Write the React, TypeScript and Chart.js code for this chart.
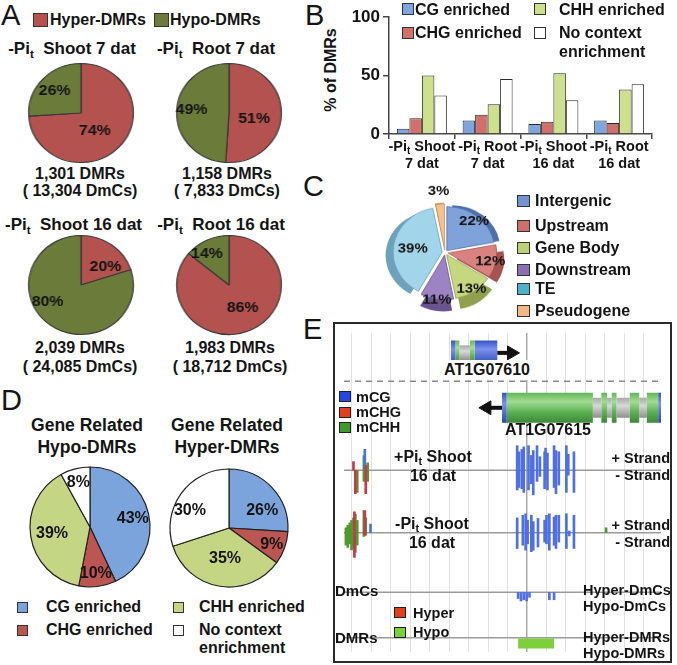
import React, { useEffect, useRef } from "react";
import { Chart, registerables } from "chart.js";
Chart.register(...registerables);

const FONT = "'Liberation Sans', Arial, Helvetica, sans-serif";
const INK = "#141414";

// ---------------- Panel A data ----------------
const A_SERIES = ["Hyper-DMRs", "Hypo-DMRs"];
const A_TISSUE = ["Shoot 7 dat", "Root 7 dat", "Shoot 16 dat", "Root 16 dat"];
const A_HYPER = [74, 51, 20, 86];
const A_HYPO = [26, 49, 80, 14];
const A_DMRS = ["1,301", "1,158", "2,039", "1,983"];
const A_DMCS = ["13,304", "7,833", "24,085", "18,712"];
const A_COLORS = ["#b3524e", "#6b7c3a"];

// ---------------- Panel B data ----------------
const B_TICK_TOP = ["Shoot", "Root", "Shoot", "Root"];
const B_TICK_BOTTOM = ["7 dat", "7 dat", "16 dat", "16 dat"];
const B_SERIES = ["CG enriched", "CHG enriched", "CHH enriched", "No context enrichment"];
const B_CG = [4.5, 11.5, 8.5, 11.5];
const B_CHG = [13.5, 16.5, 10.5, 9.5];
const B_CHH = [50, 25.5, 52, 38];
const B_NONE = [33, 47, 29, 42.5];
const B_Y_TICKS = [0, 50, 100];
const B_COLORS = ["#7ea5e0", "#d36f6a", "#cde08d", "#ffffff"];

// ---------------- Panel C data ----------------
const C_LABELS = ["Intergenic", "Upstream", "Gene Body", "Downstream", "TE", "Pseudogene"];
const C_VALUES = [22, 12, 13, 11, 39, 3];
const C_COLORS = ["#7fa2da", "#d88380", "#c5d880", "#9c84c4", "#a2d4ea", "#f7c08f"];
const C_SIDE = ["#4f70a8", "#a65450", "#8fa14f", "#6a5490", "#6ea2ba", "#c48f5f"];
const C_LEGEND_COLORS = ["#6f94d2", "#cd6e6a", "#b9d074", "#8a6fb5", "#4fb0cb", "#f4b983"];

// ---------------- Panel D data ----------------
const D_SERIES = ["CG enriched", "CHG enriched", "CHH enriched", "No context enrichment"];
const D_HYPO = [43, 10, 39, 8];
const D_HYPER = [26, 9, 35, 30];
const D_COLORS = ["#7ba4dd", "#bc5652", "#c4d584", "#ffffff"];

// ---------------- Panel E data (positions in 10-bp units from view start) ----------------
const GENE1_NAME = "AT1G07610";
const GENE1_UTR = [[113, 118], [138, 162]];
const GENE1_EXON = [[118, 122], [133, 138]];
const GENE1_INTRON = [[122, 133]];
const GENE2_NAME = "AT1G07615";
const GENE2_UTR = [[167, 172], [332, 336]];
const GENE2_EXON = [[172, 263], [272, 278], [283, 288], [302, 312], [320, 332]];
const GENE2_INTRON = [[263, 272], [278, 283], [288, 302], [312, 320]];

// +Pi shoot 16 dat methylation levels (0-1) on + / - strand
const T1_CG_POS = [22, 183, 185, 188, 190, 195, 198, 200, 204, 207, 212, 213, 215, 222, 224, 227, 235, 237, 243];
const T1_CG_PLUS = [0.85, 1.0, 0.75, 0.85, 0.95, 1.0, 0.6, 0.8, 1.0, 0.55, 0.75, 0.9, 0.7, 1.0, 0.8, 0.75, 1.0, 0.65, 0.75];
const T1_CG_MINUS = [0, 0.8, 0.7, 0.75, 0.9, 0.8, 0.55, 1.0, 0.45, 0.25, 0.75, 0.4, 0.8, 0.7, 0.95, 0.6, 0.9, 0.2, 0.9];
const T1_CHG_POS = [10, 12, 23];
const T1_CHG_PLUS = [0.35, 0, 0.2];
const T1_CHG_MINUS = [0, 0.95, 0.95];
const T1_CHH_POS = [14, 21, 25];
const T1_CHH_PLUS = [0, 0.6, 0.3];
const T1_CHH_MINUS = [0.9, 0.45, 0.45];

// -Pi shoot 16 dat
const T2_CG_POS = [22, 28, 183, 189, 192, 194, 198, 200, 205, 212, 214, 217, 222, 224, 227, 235, 238, 243];
const T2_CG_PLUS = [0.75, 0.35, 0.6, 0.71, 0.77, 0.51, 0.71, 0.45, 0.58, 0.51, 0.71, 0.77, 0.64, 0.71, 0.71, 0.77, 0.07, 0.71];
const T2_CG_MINUS = [0, 0, 0.64, 0.51, 0.71, 0.45, 0.77, 0.71, 0.58, 0.38, 0.45, 0.71, 0.51, 0.64, 0.38, 0.64, 0.13, 0.64];
const T2_CHG_POS = [11, 22];
const T2_CHG_PLUS = [0.85, 0.9];
const T2_CHG_MINUS = [1.0, 0.1];
const T2_CHH_POS = [2, 4, 6, 8, 10, 12, 14, 21, 23, 277];
const T2_CHH_PLUS = [0.2, 0.3, 0.4, 0.5, 0.6, 0.75, 0.5, 0.9, 0.6, 0.2];
const T2_CHH_MINUS = [0.5, 0.6, 0.45, 0.7, 0.6, 0.8, 0.5, 0.15, 0.1, 0];

const HYPER_DMC_POS: number[] = [];
const HYPER_DMC_LEVEL: number[] = [];
const HYPO_DMC_POS = [184, 187, 190, 193, 196, 217, 222];
const HYPO_DMC_LEVEL = [0.25, 0.35, 0.3, 0.35, 0.2, 0.3, 0.3];
const HYPER_DMR: number[][] = [];
const HYPO_DMR = [[184, 222]];

const M_COLORS = { CG: "#4f6fe3", CHG: "#c8384c", CHH: "#4f9a2e" };
const LEG_COLORS = { CG: "#2447e6", CHG: "#e2401c", CHH: "#3e9a2c", HYPER: "#e2401c", HYPO: "#7dd03c" };

// ---------------- helpers ----------------
function Txt({ x, y, children, size = 16, align = "left", weight = 700, style = {} }: any) {
  const tx = align === "center" ? "-50%" : align === "right" ? "-100%" : "0";
  return (
    <div
      style={{
        position: "absolute", left: x, top: y, transform: `translate(${tx}, -50%)`,
        fontFamily: FONT, fontSize: size, fontWeight: weight, lineHeight: 1,
        whiteSpace: "nowrap", color: INK, ...style,
      }}
    >
      {children}
    </div>
  );
}
function Sq({ x, y, w = 12, h = 12, color, border = "#333" }: any) {
  return (
    <div style={{ position: "absolute", left: x, top: y, width: w, height: h, background: color, border: `1px solid ${border}`, boxSizing: "border-box" }} />
  );
}
const Sub = ({ c }: any) => <span style={{ fontSize: "0.68em", position: "relative", top: "0.32em" }}>{c}</span>;

type PieProps = {
  left: number; top: number; size: number; cssW?: number; cssH?: number;
  radius: number; names: string[]; values: number[]; colors: string[];
  borderColor?: any; borderWidth?: number; offset?: number;
  labelSize: number; frac: number[]; shift?: number[];
  depth?: number; sideColors?: string[];
};

function PieChart(p: PieProps) {
  const ref = useRef<HTMLCanvasElement>(null);
  useEffect(() => {
    const labelPlugin = {
      id: "pieLabels",
      afterDatasetsDraw(chart: any) {
        const ctx = chart.ctx;
        const meta = chart.getDatasetMeta(0);
        const ds = chart.data.datasets[0];
        ctx.save();
        ctx.font = `bold ${p.labelSize}px ${FONT}`;
        ctx.fillStyle = INK;
        ctx.textAlign = "center";
        ctx.textBaseline = "middle";
        meta.data.forEach((arc: any, i: number) => {
          const q = arc.getProps(["x", "y", "startAngle", "endAngle", "outerRadius"], true);
          const mid = (q.startAngle + q.endAngle) / 2;
          const off = p.offset || 0;
          const a = mid + ((p.shift && p.shift[i]) || 0) * Math.PI / 180;
          const d = q.outerRadius * p.frac[i];
          const x = q.x + Math.cos(mid) * off + Math.cos(a) * d;
          const y = q.y + Math.sin(mid) * off + Math.sin(a) * d;
          ctx.fillText(`${ds.data[i]}%`, x, y + 1);
        });
        ctx.restore();
      },
    };
    const depthPlugin = {
      id: "pieDepth",
      beforeDatasetsDraw(chart: any) {
        if (!p.depth) return;
        const ctx = chart.ctx;
        const meta = chart.getDatasetMeta(0);
        meta.data.forEach((arc: any, i: number) => {
          const q = arc.getProps(["x", "y", "startAngle", "endAngle", "outerRadius"], true);
          const mid = (q.startAngle + q.endAngle) / 2;
          const off = p.offset || 0;
          const cx = q.x + Math.cos(mid) * off;
          const cy = q.y + Math.sin(mid) * off + (p.depth as number);
          ctx.save();
          ctx.beginPath();
          ctx.moveTo(cx, cy);
          ctx.arc(cx, cy, q.outerRadius, q.startAngle, q.endAngle);
          ctx.closePath();
          ctx.fillStyle = (p.sideColors as string[])[i];
          ctx.fill();
          ctx.restore();
        });
      },
    };
    const chart = new Chart(ref.current as HTMLCanvasElement, {
      type: "pie",
      data: {
        labels: p.names,
        datasets: [{
          data: p.values, backgroundColor: p.colors,
          borderColor: p.borderColor ?? "#333", borderWidth: p.borderWidth ?? 1,
          offset: p.offset ?? 0, radius: p.radius,
        } as any],
      },
      options: {
        animation: false, responsive: false, events: [],
        layout: { padding: 0 },
        plugins: { legend: { display: false }, tooltip: { enabled: false } },
      } as any,
      plugins: [depthPlugin, labelPlugin],
    });
    return () => chart.destroy();
  }, []);
  return (
    <canvas
      ref={ref} width={p.size} height={p.size}
      style={{ position: "absolute", left: p.left, top: p.top, width: p.cssW ?? p.size, height: p.cssH ?? p.size }}
    />
  );
}

// ---------------- Panel B chart ----------------
function BarChartB() {
  const ref = useRef<HTMLCanvasElement>(null);
  useEffect(() => {
    const xLabels = {
      id: "xLabels",
      afterDraw(chart: any) {
        const { ctx, chartArea } = chart;
        const x = chart.scales.x;
        ctx.save();
        ctx.fillStyle = INK;
        ctx.textBaseline = "middle";
        const big = `bold 14.5px ${FONT}`;
        const small = `bold 10px ${FONT}`;
        B_TICK_TOP.forEach((name, i) => {
          const cx = x.getPixelForValue(i);
          const y1 = chartArea.bottom + 13;
          const y2 = chartArea.bottom + 29.5;
          ctx.font = big;
          const w1 = ctx.measureText("-Pi").width;
          const w3 = ctx.measureText(" " + name).width;
          ctx.font = small;
          const w2 = ctx.measureText("t").width;
          const sx = cx - (w1 + w2 + w3) / 2;
          ctx.textAlign = "left";
          ctx.font = big;
          ctx.fillText("-Pi", sx, y1);
          ctx.font = small;
          ctx.fillText("t", sx + w1, y1 + 4.5);
          ctx.font = big;
          ctx.fillText(" " + name, sx + w1 + w2, y1);
          ctx.textAlign = "center";
          ctx.fillText(B_TICK_BOTTOM[i], cx, y2);
        });
        ctx.restore();
      },
    };
    const series = [B_CG, B_CHG, B_CHH, B_NONE];
    const chart = new Chart(ref.current as HTMLCanvasElement, {
      type: "bar",
      data: {
        labels: B_TICK_TOP,
        datasets: series.map((d, i) => ({
          label: B_SERIES[i], data: d, backgroundColor: B_COLORS[i],
          borderColor: "#2a2a2a", borderWidth: 1,
          categoryPercentage: 0.76, barPercentage: 1,
        })),
      },
      options: {
        animation: false, responsive: false, events: [],
        layout: { padding: { top: 8, right: 25, left: 0, bottom: 0 } },
        plugins: { legend: { display: false }, tooltip: { enabled: false } },
        scales: {
          x: {
            grid: { offset: true, drawOnChartArea: false, drawTicks: true, tickLength: 5, color: "#444", lineWidth: 1.5 },
            border: { color: "#444", width: 1.5 },
            ticks: { display: false },
            afterFit: (s: any) => { s.height = 42; },
          },
          y: {
            min: 0, max: 100,
            afterBuildTicks: (s: any) => { s.ticks = B_Y_TICKS.map((v) => ({ value: v })); },
            ticks: { font: { family: FONT, size: 17, weight: "bold" }, color: INK, padding: 3 },
            grid: { drawOnChartArea: false, tickLength: 6, color: "#444", lineWidth: 1.5 },
            border: { color: "#444", width: 1.5 },
            afterFit: (s: any) => { s.width = 49; },
          },
        },
      } as any,
      plugins: [xLabels],
    });
    return () => chart.destroy();
  }, []);
  return <canvas ref={ref} width={337} height={172} style={{ position: "absolute", left: 340, top: 4, width: 337, height: 172 }} />;
}

// ---------------- Panel E chart ----------------
const E_W = 335;
const E_H = 337;
const E_GRID_START = 8;
const E_GRID_STEP = 20.6;
const E_GRID_COUNT = 16;
const E_GRID_CENTER = 9;
const Y_GENE1 = 21;
const Y_GENE2 = 79;
const Y_DASH = 51;
const Y_T1 = 145;
const Y_T2 = 211;
const Y_DMC = 274;
const Y_DMR = 322;
const LEVEL_PX = 26;

function GenomeChart() {
  const ref = useRef<HTMLCanvasElement>(null);
  useEffect(() => {
    const grad = (stops: [number, string][], yVal: number, h: number) => (c: any) => {
      const chart = c.chart;
      if (!chart.chartArea || !chart.scales.y) return stops[1][1];
      const yp = chart.scales.y.getPixelForValue(yVal);
      const g = chart.ctx.createLinearGradient(0, yp - h / 2, 0, yp + h / 2);
      stops.forEach(([o, col]) => g.addColorStop(o, col));
      return g;
    };
    const BLUE: [number, string][] = [[0, "#3553c4"], [0.35, "#7a92ee"], [1, "#2a45b0"]];
    const GREEN: [number, string][] = [[0, "#62b658"], [0.3, "#a2dc94"], [0.65, "#5cb052"], [1, "#3d873a"]];
    const GRAY: [number, string][] = [[0, "#a8a8a8"], [0.4, "#d8d8d8"], [1, "#8e8e8e"]];

    const segData = (ranges: number[][], y: number) => {
      const out: any[] = [];
      ranges.forEach(([a, b], i) => {
        if (i > 0) out.push({ x: (ranges[i - 1][1] + a) / 2, y: null });
        out.push({ x: a, y }, { x: b, y });
      });
      return out;
    };
    const line = (data: any[], color: any, width: number, order: number, extra: any = {}) => ({
      type: "line", data, borderColor: color, borderWidth: width, pointRadius: 0,
      borderCapStyle: "butt", fill: false, tension: 0, spanGaps: false, order, ...extra,
    });

    // methylation marks: one bar dataset, per-bar colours
    const marks: any[] = [];
    const markColors: string[] = [];
    const addMarks = (pos: number[], plus: number[], minus: number[], base: number, color: string) => {
      pos.forEach((x, i) => {
        if (plus[i] > 0) { marks.push({ x, y: [base - plus[i] * LEVEL_PX, base] }); markColors.push(color); }
        if (minus[i] > 0) { marks.push({ x, y: [base, base + minus[i] * LEVEL_PX] }); markColors.push(color); }
      });
    };
    addMarks(T1_CHH_POS, T1_CHH_PLUS, T1_CHH_MINUS, Y_T1, M_COLORS.CHH);
    addMarks(T1_CG_POS, T1_CG_PLUS, T1_CG_MINUS, Y_T1, M_COLORS.CG);
    addMarks(T1_CHG_POS, T1_CHG_PLUS, T1_CHG_MINUS, Y_T1, M_COLORS.CHG);
    addMarks(T2_CHH_POS, T2_CHH_PLUS, T2_CHH_MINUS, Y_T2, M_COLORS.CHH);
    addMarks(T2_CG_POS, T2_CG_PLUS, T2_CG_MINUS, Y_T2, M_COLORS.CG);
    addMarks(T2_CHG_POS, T2_CHG_PLUS, T2_CHG_MINUS, Y_T2, M_COLORS.CHG);
    addMarks(HYPER_DMC_POS, HYPER_DMC_LEVEL, HYPER_DMC_POS.map(() => 0), Y_DMC, M_COLORS.CG);
    addMarks(HYPO_DMC_POS, HYPO_DMC_POS.map(() => 0), HYPO_DMC_LEVEL, Y_DMC, M_COLORS.CG);

    const hLine = (y: number, extra: any = {}) =>
      line([{ x: 0, y }, { x: E_W, y }], "#9b9b9b", 1.5, 10, extra);

    const datasets: any[] = [
      {
        type: "bar", data: marks, backgroundColor: markColors, borderWidth: 0,
        barThickness: 2, order: 1,
      },
      line(segData(HYPO_DMR, Y_DMR + 6), LEG_COLORS.HYPO, 10, 1),
      ...(HYPER_DMR.length ? [line(segData(HYPER_DMR, Y_DMR - 6), LEG_COLORS.HYPER, 10, 1)] : []),
      // genes
      line(segData(GENE1_INTRON, Y_GENE1), grad(GRAY, Y_GENE1, 15), 15, 4),
      line(segData(GENE1_UTR, Y_GENE1), grad(BLUE, Y_GENE1, 25), 25, 3),
      line(segData(GENE1_EXON, Y_GENE1), grad(GREEN, Y_GENE1, 25), 25, 2),
      line(segData(GENE2_INTRON, Y_GENE2), grad(GRAY, Y_GENE2, 20), 20, 4),
      line(segData(GENE2_UTR, Y_GENE2), grad(BLUE, Y_GENE2, 30), 30, 3),
      line(segData(GENE2_EXON, Y_GENE2), grad(GREEN, Y_GENE2, 30), 30, 2),
      // strand arrows
      line([{ x: GENE1_UTR[1][1], y: Y_GENE1 }, { x: GENE1_UTR[1][1] + 15, y: Y_GENE1 }], "#111", 4, 2, {
        pointRadius: [0, 8], pointStyle: "triangle", rotation: 90, pointBackgroundColor: "#111", pointBorderColor: "#111", pointBorderWidth: 1,
      }),
      line([{ x: GENE2_UTR[0][0], y: Y_GENE2 }, { x: GENE2_UTR[0][0] - 16, y: Y_GENE2 }], "#111", 4, 2, {
        pointRadius: [0, 8], pointStyle: "triangle", rotation: 270, pointBackgroundColor: "#111", pointBorderColor: "#111", pointBorderWidth: 1,
      }),
      // separators
      hLine(Y_DASH, { borderDash: [6, 5], borderColor: "#8a8a8a" }),
      hLine(Y_T1),
      hLine(Y_T2),
      hLine(Y_DMC),
      hLine(Y_DMR),
    ];

    const gridTicks = Array.from({ length: E_GRID_COUNT }, (_, k) => ({ value: E_GRID_START + k * E_GRID_STEP }));

    const chart = new Chart(ref.current as HTMLCanvasElement, {
      type: "bar",
      data: { datasets },
      options: {
        animation: false, responsive: false, events: [],
        layout: { padding: 0 },
        plugins: { legend: { display: false }, tooltip: { enabled: false } },
        scales: {
          x: {
            type: "linear", min: 0, max: E_W, offset: false,
            afterBuildTicks: (s: any) => { s.ticks = gridTicks.map((t) => ({ ...t })); },
            ticks: { display: false },
            border: { display: false },
            grid: {
              offset: false, drawTicks: false,
              color: (c: any) => (c.index === E_GRID_CENTER ? "#a9a9a9" : "#e1e1e1"),
              lineWidth: (c: any) => (c.index === E_GRID_CENTER ? 1.5 : 1),
            },
            afterFit: (s: any) => { s.height = 0; },
          },
          y: { type: "linear", min: 0, max: E_H, reverse: true, display: false },
        },
      } as any,
    });
    return () => chart.destroy();
  }, []);
  return <canvas ref={ref} width={E_W} height={E_H} style={{ position: "absolute", left: 0, top: 0, width: E_W, height: E_H }} />;
}

// ---------------- App ----------------
const A_CENTERS = [[80.5, 112.5], [229, 112.5], [80.5, 284.5], [229, 284.5]];
const A_TITLE_POS = [[72, 48], [216, 48], [73.5, 224], [221, 224]];
const A_COUNT_POS = [[80, 174, 191], [227, 174, 191], [80, 348, 367], [230, 348, 367]];
const A_FRAC = [[0.43, 0.69], [0.49, 0.72], [0.61, 0.71], [0.52, 0.77]];
const A_SHIFT = [[9, 0], [10, 4.5], [14, 28], [-5, -8]];

export default function App() {
  return (
    <div style={{ position: "absolute", left: 0, top: 0, width: 677, height: 665, background: "#fff", overflow: "hidden", fontFamily: FONT }}>
      {/* ---------- Panel A ---------- */}
      <Txt x={1} y={15} size={29} weight={400}>A</Txt>
      <Sq x={33} y={13} w={15} h={14} color={A_COLORS[0]} />
      <Txt x={50} y={20}>{A_SERIES[0]}</Txt>
      <Sq x={154} y={13} w={15} h={14} color={A_COLORS[1]} />
      <Txt x={170} y={20}>{A_SERIES[1]}</Txt>
      {A_TISSUE.map((t, i) => (
        <React.Fragment key={"a" + i}>
          <Txt x={A_TITLE_POS[i][0]} y={A_TITLE_POS[i][1]} align="center" size={17}>
            -Pi<Sub c="t" />{"\u00a0\u00a0"}{t}
          </Txt>
          <PieChart
            left={A_CENTERS[i][0] - 55} top={A_CENTERS[i][1] - 52} size={104} cssW={110} cssH={104}
            radius={49.5} names={A_SERIES} values={[A_HYPER[i], A_HYPO[i]]} colors={A_COLORS}
            borderColor="#3a3a3a" borderWidth={1.2} labelSize={15} frac={A_FRAC[i]} shift={A_SHIFT[i]}
          />
          <Txt x={A_COUNT_POS[i][0]} y={A_COUNT_POS[i][1]} align="center">{A_DMRS[i]} DMRs</Txt>
          <Txt x={A_COUNT_POS[i][0]} y={A_COUNT_POS[i][2]} align="center">( {A_DMCS[i]} DmCs)</Txt>
        </React.Fragment>
      ))}

      {/* ---------- Panel B ---------- */}
      <Txt x={305} y={15} size={29} weight={400}>B</Txt>
      <div style={{ position: "absolute", left: 331, top: 70, transform: "translate(-50%, -50%) rotate(-90deg)", fontFamily: FONT, fontWeight: 700, fontSize: 16, whiteSpace: "nowrap", color: INK, lineHeight: 1 }}>
        % of DMRs
      </div>
      <BarChartB />
      <Sq x={402} y={3} color={B_COLORS[0]} />
      <Txt x={415} y={9.5}>{B_SERIES[0]}</Txt>
      <Sq x={402} y={27} color={B_COLORS[1]} />
      <Txt x={415} y={33}>{B_SERIES[1]}</Txt>
      <Sq x={534} y={3} color={B_COLORS[2]} />
      <Txt x={559} y={9.5}>{B_SERIES[2]}</Txt>
      <Sq x={534} y={27} color={B_COLORS[3]} />
      <Txt x={559} y={33}>No context</Txt>
      <Txt x={559} y={52}>enrichment</Txt>

      {/* ---------- Panel C ---------- */}
      <Txt x={303} y={186} size={29} weight={400}>C</Txt>
      <PieChart
        left={369.5} top={183.5} size={150} cssW={150} cssH={137} radius={48}
        names={C_LABELS} values={C_VALUES} colors={C_COLORS} borderColor={C_SIDE} borderWidth={0.8}
        offset={11.5} labelSize={15} frac={[0.71, 0.72, 0.74, 0.84, 0.44, 1.18]}
        depth={5} sideColors={C_SIDE}
      />
      {C_LABELS.map((l, i) => {
        const cy = [201, 226, 248, 270, 289, 311][i];
        return (
          <React.Fragment key={"c" + i}>
            <Sq x={517} y={cy - 6} w={13} h={12} color={C_LEGEND_COLORS[i]} />
            <Txt x={535} y={cy}>{l}</Txt>
          </React.Fragment>
        );
      })}

      {/* ---------- Panel D ---------- */}
      <Txt x={1} y={400} size={29} weight={400}>D</Txt>
      <Txt x={87} y={426} align="center" size={17.5}>Gene Related</Txt>
      <Txt x={87} y={448} align="center" size={17.5}>Hypo-DMRs</Txt>
      <Txt x={227} y={426} align="center" size={17.5}>Gene Related</Txt>
      <Txt x={227} y={448} align="center" size={17.5}>Hyper-DMRs</Txt>
      <PieChart
        left={26} top={463} size={128} radius={60} names={D_SERIES} values={D_HYPO} colors={D_COLORS}
        borderColor="#222" borderWidth={1.2} labelSize={16} frac={[0.73, 0.77, 0.64, 0.78]}
      />
      <PieChart
        left={164.5} top={464} size={128} radius={59} names={D_SERIES} values={D_HYPER} colors={D_COLORS}
        borderColor="#222" borderWidth={1.2} labelSize={16} frac={[0.64, 0.77, 0.51, 0.73]} shift={[14.6, 0, -1.4, -11]}
      />
      <Sq x={17} y={602} w={11} h={11} color={D_COLORS[0]} />
      <Txt x={46} y={607}>{D_SERIES[0]}</Txt>
      <Sq x={17} y={625} w={11} h={11} color={D_COLORS[1]} />
      <Txt x={46} y={630}>{D_SERIES[1]}</Txt>
      <Sq x={173} y={602} w={11} h={11} color={D_COLORS[2]} />
      <Txt x={199} y={607}>{D_SERIES[2]}</Txt>
      <Sq x={173} y={625} w={11} h={11} color={D_COLORS[3]} />
      <Txt x={199} y={630}>No context</Txt>
      <Txt x={199} y={648}>enrichment</Txt>

      {/* ---------- Panel E ---------- */}
      <Txt x={303} y={329} size={29} weight={400}>E</Txt>
      <div style={{ position: "absolute", left: 333, top: 322, width: 339, height: 341, border: "2px solid #2a2a2a", boxSizing: "border-box" }}>
        <GenomeChart />
      </div>
      <Txt x={487} y={370} align="center" style={{ background: "#fff", padding: "2px 7px" }}>{GENE1_NAME}</Txt>
      <Txt x={548} y={430} align="center">{GENE2_NAME}</Txt>
      <Sq x={339} y={391} w={12} h={11} color={LEG_COLORS.CG} border="#222" />
      <Txt x={356} y={397} size={14.5}>mCG</Txt>
      <Sq x={339} y={407} w={12} h={11} color={LEG_COLORS.CHG} border="#222" />
      <Txt x={356} y={412} size={14.5}>mCHG</Txt>
      <Sq x={339} y={422} w={12} h={11} color={LEG_COLORS.CHH} border="#222" />
      <Txt x={356} y={427} size={14.5}>mCHH</Txt>

      <Txt x={433} y={457} align="center">+Pi<Sub c="t" /> Shoot</Txt>
      <Txt x={433} y={476} align="center">16 dat</Txt>
      <Txt x={670} y={458} align="right" size={14.5}>+ Strand</Txt>
      <Txt x={670} y={475} align="right" size={14.5}>- Strand</Txt>

      <Txt x={432} y={524} align="center">-Pi<Sub c="t" /> Shoot</Txt>
      <Txt x={432} y={543} align="center">16 dat</Txt>
      <Txt x={670} y={525} align="right" size={14.5}>+ Strand</Txt>
      <Txt x={670} y={542} align="right" size={14.5}>- Strand</Txt>

      <Txt x={335} y={590} size={15}>DmCs</Txt>
      <Txt x={583} y={590} size={14.5}>Hyper-DmCs</Txt>
      <Txt x={583} y={606} size={14.5}>Hypo-DmCs</Txt>
      <Sq x={394} y={607} w={12} h={11} color={LEG_COLORS.HYPER} border="#222" />
      <Txt x={413} y={613} size={14.5}>Hyper</Txt>
      <Sq x={394} y={627} w={12} h={11} color={LEG_COLORS.HYPO} border="#222" />
      <Txt x={413} y={632} size={14.5}>Hypo</Txt>
      <Txt x={335} y={637} size={15}>DMRs</Txt>
      <Txt x={583} y={637} size={14.5}>Hyper-DMRs</Txt>
      <Txt x={583} y={653} size={14.5}>Hypo-DMRs</Txt>
    </div>
  );
}
